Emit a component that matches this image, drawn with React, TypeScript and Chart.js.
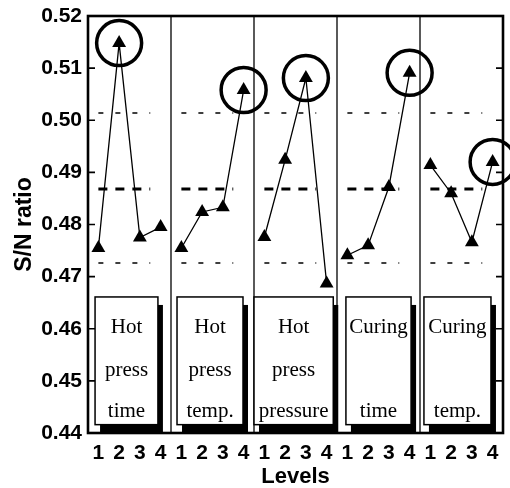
import React, { useEffect, useRef } from "react";
import { Chart, registerables } from "chart.js";

Chart.register(...registerables);

// ---- data ----
const factors = ["Hot press time", "Hot press temp.", "Hot press pressure", "Curing time", "Curing temp."];
const levelLabels = ["1", "2", "3", "4"];
const hotPressTime = [0.4755, 0.5148, 0.4775, 0.4795];
const hotPressTemp = [0.4755, 0.4824, 0.4833, 0.5058];
const hotPressPressure = [0.4776, 0.4924, 0.5081, 0.4687];
const curingTime = [0.4741, 0.476, 0.4872, 0.5091];
const curingTemp = [0.4914, 0.486, 0.4766, 0.492];
const seriesList = [hotPressTime, hotPressTemp, hotPressPressure, curingTime, curingTemp];
const optimalLevel = [2, 4, 3, 4, 4];
const boxLines = [
  ["Hot", "press", "time"],
  ["Hot", "press", "temp."],
  ["Hot", "press", "pressure"],
  ["Curing", "", "time"],
  ["Curing", "", "temp."],
];
const meanSN = 0.4868;
const upperLimit = 0.5014;
const lowerLimit = 0.4726;
const yTicks = [0.44, 0.45, 0.46, 0.47, 0.48, 0.49, 0.5, 0.51, 0.52];
const boxTopValue = 0.4661;
const boxBottomValue = 0.4416;

// ---- styling (positions in axis units within each group) ----
const boxSpan = [
  [0.34, 3.37],
  [0.29, 3.47],
  [0.0, 3.82],
  [0.43, 3.57],
  [0.19, 3.42],
];
const refSpan = [0.5, 3.0];
const N = levelLabels.length;

function refLine(value: number) {
  const pts: any[] = [];
  factors.forEach((_, g) => {
    pts.push({ x: g * N + refSpan[0], y: value });
    pts.push({ x: g * N + refSpan[1], y: value });
    pts.push({ x: g * N + refSpan[1] + 0.2, y: null });
  });
  return pts;
}

function zeroPad(scale: any) {
  scale.paddingTop = 0;
  scale.paddingBottom = 0;
  scale.paddingLeft = 0;
  scale.paddingRight = 0;
}

const decorPlugin = {
  id: "decor",
  beforeDatasetsDraw(chart: any) {
    const { ctx, chartArea, scales } = chart;
    const { top, bottom } = chartArea;
    const x = scales.x;
    const y = scales.y;
    ctx.save();
    ctx.strokeStyle = "#000";
    ctx.lineWidth = 1.3;
    for (let g = 1; g < factors.length; g++) {
      const px = x.getPixelForValue(g * N);
      ctx.beginPath();
      ctx.moveTo(px, top);
      ctx.lineTo(px, bottom);
      ctx.stroke();
    }
    const yT = y.getPixelForValue(boxTopValue);
    const yB = y.getPixelForValue(boxBottomValue);
    factors.forEach((_, g) => {
      const x0 = x.getPixelForValue(g * N + boxSpan[g][0]);
      const x1 = x.getPixelForValue(g * N + boxSpan[g][1]);
      const w = x1 - x0;
      const h = yB - yT;
      ctx.fillStyle = "#000";
      ctx.fillRect(x0 + 5, yT + 8, w, h);
      ctx.fillStyle = "#fff";
      ctx.fillRect(x0, yT, w, h);
      ctx.lineWidth = 1.5;
      ctx.strokeStyle = "#000";
      ctx.strokeRect(x0, yT, w, h);
      ctx.fillStyle = "#000";
      ctx.font = '21px "Liberation Serif", serif';
      ctx.textAlign = "center";
      ctx.textBaseline = "alphabetic";
      const cx = (x0 + x1) / 2;
      const offs = [36, 79, 120];
      boxLines[g].forEach((t, i) => {
        if (t) ctx.fillText(t, cx, yT + offs[i]);
      });
    });
    ctx.restore();
  },
  afterDatasetsDraw(chart: any) {
    const { ctx, chartArea, scales } = chart;
    const { left, right, top, bottom } = chartArea;
    const y = scales.y;
    ctx.save();
    ctx.strokeStyle = "#000";
    ctx.lineWidth = 1.6;
    yTicks.forEach((v) => {
      const py = y.getPixelForValue(v);
      ctx.beginPath();
      ctx.moveTo(left, py);
      ctx.lineTo(left + 7, py);
      ctx.moveTo(right, py);
      ctx.lineTo(right - 7, py);
      ctx.stroke();
    });
    ctx.lineWidth = 2.6;
    ctx.strokeRect(left, top, right - left, bottom - top);
    ctx.restore();
  },
};

export default function App() {
  const ref = useRef<HTMLCanvasElement | null>(null);
  useEffect(() => {
    if (!ref.current) return;
    const datasets: any[] = [];
    seriesList.forEach((s, g) => {
      datasets.push({
        label: factors[g],
        data: s.map((v, i) => ({ x: g * N + i + 0.5, y: v })),
        borderColor: "#000",
        backgroundColor: "#000",
        borderWidth: 1.3,
        pointStyle: "triangle",
        pointRadius: 8,
        pointBorderWidth: 0,
        showLine: true,
        tension: 0,
      });
    });
    datasets.push({
      label: "mean",
      data: refLine(meanSN),
      borderColor: "#000",
      borderWidth: 3,
      borderDash: [9, 8],
      pointRadius: 0,
      spanGaps: false,
    });
    [upperLimit, lowerLimit].forEach((v) => {
      datasets.push({
        label: "limit",
        data: refLine(v),
        borderColor: "#000",
        borderWidth: 1.4,
        borderDash: [5, 12],
        pointRadius: 0,
        spanGaps: false,
      });
    });
    datasets.push({
      label: "optimal",
      data: seriesList.map((s, g) => ({ x: g * N + optimalLevel[g] - 0.5, y: s[optimalLevel[g] - 1] })),
      showLine: false,
      pointStyle: "circle",
      pointRadius: 22.5,
      pointBorderWidth: 3.5,
      borderColor: "#000",
      backgroundColor: "rgba(0,0,0,0)",
      clip: false,
    });

    const tickFont = { family: '"Liberation Sans", Arial, sans-serif', size: 21, weight: "bold" as const };
    const chart = new Chart(ref.current, {
      type: "line",
      data: { datasets },
      plugins: [decorPlugin],
      options: {
        animation: false,
        responsive: false,
        maintainAspectRatio: false,
        layout: { autoPadding: false, padding: { top: 16, right: 7, left: 0, bottom: 0 } },
        plugins: { legend: { display: false }, tooltip: { enabled: false } },
        scales: {
          x: {
            type: "linear",
            min: 0,
            max: factors.length * N,
            grid: { display: false, drawTicks: false },
            border: { display: false },
            afterBuildTicks: (scale: any) => {
              const t: any[] = [];
              factors.forEach((_, g) => levelLabels.forEach((_, i) => t.push({ value: g * N + i + 0.5 })));
              scale.ticks = t;
            },
            afterFit: (scale: any) => {
              scale.height = 55;
              zeroPad(scale);
            },
            ticks: {
              autoSkip: false,
              maxRotation: 0,
              padding: 8,
              color: "#000",
              font: tickFont,
              callback: (v: any) => levelLabels[Math.floor(Number(v)) % N],
            },
            title: {
              display: true,
              text: "Levels",
              color: "#000",
              font: { family: '"Liberation Sans", Arial, sans-serif', size: 22, weight: "bold", lineHeight: 1 },
              padding: { top: 0, bottom: 0 },
            },
          },
          y: {
            type: "linear",
            min: 0.44,
            max: 0.52,
            grid: { display: false, drawTicks: false },
            border: { display: false },
            afterBuildTicks: (scale: any) => {
              scale.ticks = yTicks.map((v) => ({ value: v }));
            },
            afterFit: (scale: any) => {
              scale.width = 88;
              zeroPad(scale);
            },
            ticks: {
              padding: 6,
              color: "#000",
              font: tickFont,
              callback: (v: any) => Number(v).toFixed(2),
            },
            title: {
              display: true,
              text: "S/N ratio",
              color: "#000",
              font: { family: '"Liberation Sans", Arial, sans-serif', size: 23, weight: "bold", lineHeight: 1 },
              padding: { top: 13, bottom: 0 },
            },
          },
        },
      },
    });
    return () => chart.destroy();
  }, []);

  return (
    <div style={{ position: "fixed", left: 0, top: 0, width: 510, height: 488, background: "#fff" }}>
      <canvas ref={ref} width={510} height={488} style={{ width: 510, height: 488 }} />
    </div>
  );
}
